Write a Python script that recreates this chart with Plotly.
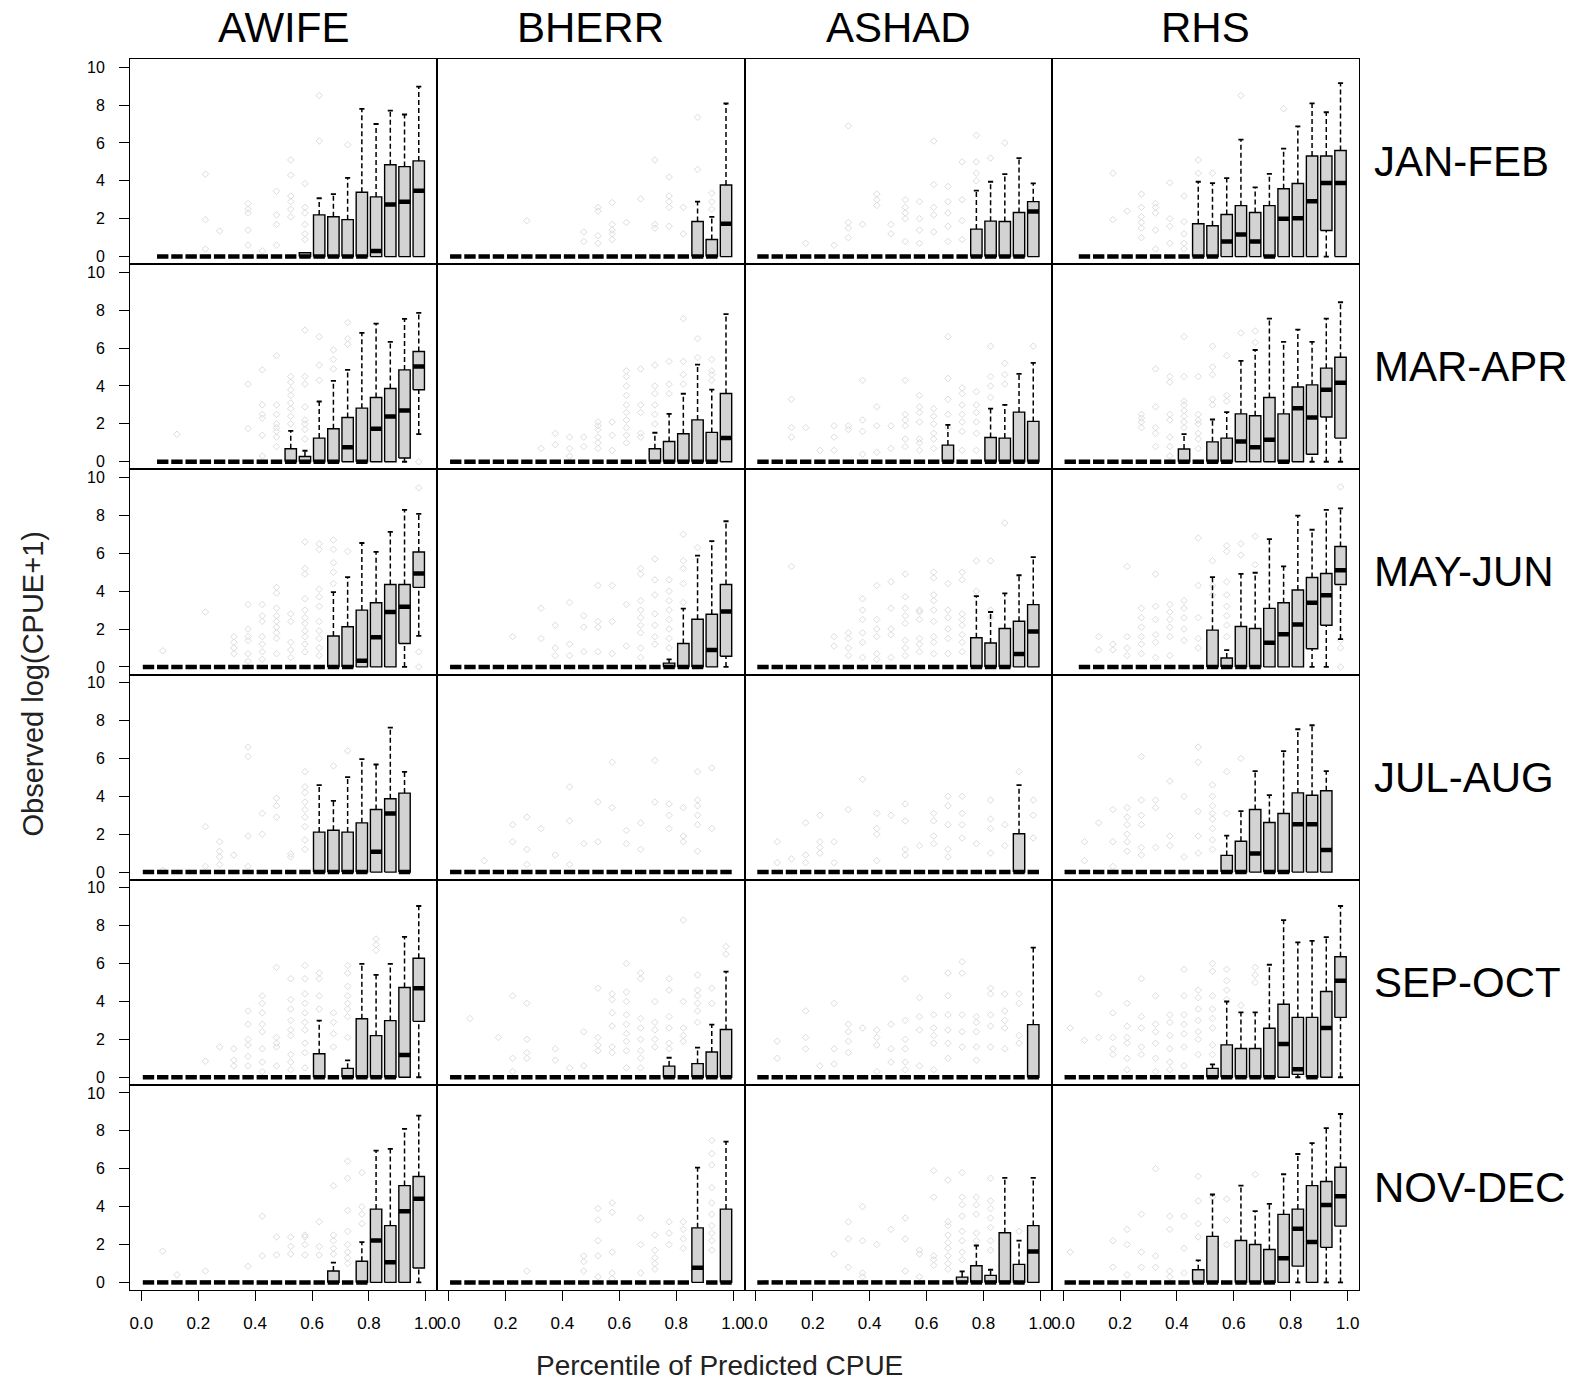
import plotly.graph_objects as go
from plotly.subplots import make_subplots

SPECIES = ["AWIFE", "BHERR", "ASHAD", "RHS"]
PERIODS = ["JAN-FEB", "MAR-APR", "MAY-JUN", "JUL-AUG", "SEP-OCT", "NOV-DEC"]
BIN_CENTERS = [0.025, 0.075, 0.125, 0.175, 0.225, 0.275, 0.325, 0.375, 0.425, 0.475,
               0.525, 0.575, 0.625, 0.675, 0.725, 0.775, 0.825, 0.875, 0.925, 0.975]
X_TICKS = [0.0, 0.2, 0.4, 0.6, 0.8, 1.0]
X_TICK_TEXT = ["0.0", "0.2", "0.4", "0.6", "0.8", "1.0"]
Y_TICKS = [0, 2, 4, 6, 8, 10]
Y_TICK_TEXT = ["0", "2", "4", "6", "8", "10"]

# Box statistics per percentile bin: (lower whisker, q1, median, q3, upper whisker)
# 0 = all observations zero, None = no observations in that bin
AWIFE_JANFEB = [None, 0, 0, 0, 0, 0, 0, 0, 0, 0, 0, (0, 0, 0, 0.2, 0.2), (0, 0, 0, 2.2, 3.08),
                (0, 0, 0, 2.1, 3.3), (0, 0, 0, 1.95, 4.15), (0, 0, 0, 3.4, 7.8), (0, 0, 0.3, 3.15, 7.0),
                (0, 0, 2.75, 4.85, 7.7), (0, 0, 2.9, 4.75, 7.5), (0, 0, 3.48, 5.05, 8.97)]
BHERR_JANFEB = [0, 0, 0, 0, 0, 0, 0, 0, 0, 0, 0, 0, 0, 0, 0, 0, 0,
                (0, 0, 0, 1.85, 2.9), (0, 0, 0, 0.9, 2.1), (0, 0, 1.73, 3.78, 8.08)]
ASHAD_JANFEB = [0, 0, 0, 0, 0, 0, 0, 0, 0, 0, 0, 0, 0, 0, 0,
                (0, 0, 0, 1.45, 3.48), (0, 0, 0, 1.87, 3.95), (0, 0, 0, 1.85, 4.35),
                (0, 0, 0, 2.33, 5.2), (0, 0, 2.38, 2.9, 3.86)]
RHS_JANFEB = [None, 0, 0, 0, 0, 0, 0, 0, 0, (0, 0, 0, 1.73, 3.95), (0, 0, 0, 1.63, 3.88),
              (0, 0, 0.79, 2.22, 4.14), (0, 0, 1.17, 2.69, 6.17), (0, 0, 0.79, 2.33, 3.65),
              (0, 0, 0, 2.69, 4.37), (0, 0, 2.0, 3.58, 5.7), (0, 0, 2.03, 3.86, 6.87),
              (0, 0, 2.92, 5.31, 8.09), (0, 1.38, 3.88, 5.31, 7.62), (0, 0, 3.88, 5.6, 9.16)]

AWIFE_MARAPR = [None, 0, 0, 0, 0, 0, 0, 0, 0, 0, (0, 0, 0, 0.69, 1.63), (0, 0, 0, 0.28, 0.58),
                (0, 0, 0, 1.25, 3.18), (0, 0, 0, 1.74, 4.27), (0, 0, 0.77, 2.34, 4.85),
                (0, 0, 0, 2.83, 6.8), (0, 0, 1.74, 3.39, 7.29), (0, 0, 2.39, 3.87, 6.33),
                (0, 0.2, 2.7, 4.85, 7.54), (1.46, 3.8, 5.03, 5.82, 7.86)]
BHERR_MARAPR = [0, 0, 0, 0, 0, 0, 0, 0, 0, 0, 0, 0, 0, 0,
                (0, 0, 0, 0.69, 1.53), (0, 0, 0, 1.07, 2.53), (0, 0, 0, 1.48, 3.59),
                (0, 0, 0, 2.21, 5.13), (0, 0, 0, 1.55, 3.81), (0, 0, 1.25, 3.6, 7.79)]
ASHAD_MARAPR = [0, 0, 0, 0, 0, 0, 0, 0, 0, 0, 0, 0, 0, (0, 0, 0, 0.88, 1.95), 0, 0,
                (0, 0, 0, 1.28, 2.81), (0, 0, 0, 1.25, 3.0), (0, 0, 0, 2.62, 4.64), (0, 0, 0, 2.13, 5.22)]
RHS_MARAPR = [0, 0, 0, 0, 0, 0, 0, 0, (0, 0, 0, 0.67, 1.46), 0, (0, 0, 0, 1.05, 2.23),
              (0, 0, 0, 1.25, 2.62), (0, 0, 1.07, 2.53, 5.33), (0, 0, 0.77, 2.43, 5.9),
              (0, 0, 1.16, 3.39, 7.56), (0, 0, 0, 2.53, 6.33), (0, 0, 2.83, 3.95, 6.98),
              (0, 0.4, 2.34, 4.06, 6.33), (0, 2.36, 3.8, 4.94, 7.56), (0, 1.25, 4.17, 5.52, 8.42)]

AWIFE_MAYJUN = [0, 0, 0, 0, 0, 0, 0, 0, 0, 0, 0, 0, 0, (0, 0, 0, 1.63, 3.95), (0, 0, 0, 2.12, 4.74),
                (0, 0, 0.33, 3.0, 6.54), (0, 0, 1.56, 3.39, 6.07), (0, 0, 2.9, 4.35, 7.13),
                (0, 1.24, 3.18, 4.35, 8.29), (1.64, 4.2, 4.93, 6.07, 8.08)]
BHERR_MAYJUN = [0, 0, 0, 0, 0, 0, 0, 0, 0, 0, 0, 0, 0, 0, 0, (0, 0, 0, 0.2, 0.4),
                (0, 0, 0, 1.24, 3.08), (0, 0, 0, 2.52, 5.87), (0, 0, 0.89, 2.78, 6.64),
                (0, 0.56, 2.92, 4.35, 7.69)]
ASHAD_MAYJUN = [0, 0, 0, 0, 0, 0, 0, 0, 0, 0, 0, 0, 0, 0, 0,
                (0, 0, 0, 1.54, 3.74), (0, 0, 0, 1.26, 2.9), (0, 0, 0, 2.03, 3.88),
                (0, 0, 0.68, 2.41, 4.84), (0, 0, 1.87, 3.29, 5.8)]
RHS_MAYJUN = [None, 0, 0, 0, 0, 0, 0, 0, 0, 0, (0, 0, 0, 1.94, 4.74), (0, 0, 0, 0.47, 0.89),
              (0, 0, 0, 2.13, 4.91), (0, 0, 0, 2.03, 4.97), (0, 0, 1.28, 3.09, 6.75),
              (0, 0, 1.73, 3.39, 5.31), (0, 0, 2.24, 4.06, 7.99), (0, 0.96, 3.39, 4.72, 7.24),
              (0, 2.2, 3.78, 4.93, 8.29), (1.47, 4.35, 5.1, 6.36, 8.37)]

AWIFE_JULAUG = [0, 0, 0, 0, 0, 0, 0, 0, 0, 0, 0, 0, (0, 0, 0, 2.11, 4.59), (0, 0, 0, 2.21, 3.76),
                (0, 0, 0, 2.11, 5.01), (0, 0, 0, 2.6, 5.96), (0, 0, 1.07, 3.3, 5.68),
                (0, 0, 3.09, 3.87, 7.63), (0, 0, 0, 4.17, 5.29), None]
BHERR_JULAUG = [0, 0, 0, 0, 0, 0, 0, 0, 0, 0, 0, 0, 0, 0, 0, 0, 0, 0, 0, 0]
ASHAD_JULAUG = [0, 0, 0, 0, 0, 0, 0, 0, 0, 0, 0, 0, 0, 0, 0, 0, 0, 0, (0, 0, 0, 2.02, 4.59), 0]
RHS_JULAUG = [0, 0, 0, 0, 0, 0, 0, 0, 0, 0, 0, (0, 0, 0, 0.88, 1.93), (0, 0, 0, 1.63, 3.22),
              (0, 0, 0.98, 3.3, 5.33), (0, 0, 0, 2.62, 4.06), (0, 0, 0, 3.09, 6.38),
              (0, 0, 2.53, 4.18, 7.54), (0, 0, 2.53, 4.06, 7.75), (0, 0, 1.16, 4.29, 5.33), None]

AWIFE_SEPOCT = [0, 0, 0, 0, 0, 0, 0, 0, 0, 0, 0, 0, (0, 0, 0, 1.24, 2.99), 0, (0, 0, 0, 0.47, 0.89),
                (0, 0, 0, 3.09, 5.98), (0, 0, 0, 2.2, 5.4), (0, 0, 0, 2.99, 5.98),
                (0, 0, 1.17, 4.74, 7.41), (0, 2.95, 4.7, 6.28, 9.04)]
BHERR_SEPOCT = [0, 0, 0, 0, 0, 0, 0, 0, 0, 0, 0, 0, 0, 0, 0, (0, 0, 0, 0.59, 1.03), 0,
                (0, 0, 0, 0.72, 1.56), (0, 0, 0, 1.33, 2.78), (0, 0, 0, 2.52, 5.58)]
ASHAD_SEPOCT = [0, 0, 0, 0, 0, 0, 0, 0, 0, 0, 0, 0, 0, 0, 0, 0, 0, 0, 0, (0, 0, 0, 2.78, 6.84)]
RHS_SEPOCT = [0, 0, 0, 0, 0, 0, 0, 0, 0, 0, (0, 0, 0, 0.47, 0.68), (0, 0, 0, 1.71, 4.0),
              (0, 0, 0, 1.52, 3.43), (0, 0, 0, 1.52, 3.43), (0, 0, 0, 2.59, 5.94),
              (0, 0, 1.75, 3.85, 8.29), (0, 0.15, 0.42, 3.16, 7.12), (0, 0, 0, 3.16, 7.2),
              (0, 0, 2.6, 4.53, 7.4), (0, 3.16, 5.1, 6.36, 9.04)]

AWIFE_NOVDEC = [0, 0, 0, 0, 0, 0, 0, 0, 0, 0, 0, 0, 0, (0, 0, 0, 0.6, 1.04), 0, (0, 0, 0, 1.12, 2.13),
                (0, 0, 2.21, 3.87, 6.96), (0, 0, 1.07, 3.0, 7.05), (0, 0, 3.76, 5.11, 8.1),
                (0, 0.76, 4.41, 5.59, 8.8)]
BHERR_NOVDEC = [0, 0, 0, 0, 0, 0, 0, 0, 0, 0, 0, 0, 0, 0, 0, 0, 0,
                (0, 0, 0.77, 2.88, 6.06), 0, (0, 0, 0, 3.87, 7.43)]
ASHAD_NOVDEC = [0, 0, 0, 0, 0, 0, 0, 0, 0, 0, 0, 0, 0, 0, (0, 0, 0, 0.28, 0.58), (0, 0, 0, 0.88, 1.95),
                (0, 0, 0, 0.37, 0.67), (0, 0, 0, 2.62, 5.52), (0, 0, 0, 0.95, 2.21), (0, 0, 1.63, 3.0, 5.52)]
RHS_NOVDEC = [0, 0, 0, 0, 0, 0, 0, 0, 0, (0, 0, 0, 0.67, 1.16), (0, 0, 0, 2.43, 4.64), 0,
              (0, 0, 0, 2.21, 5.11), (0, 0, 0, 2.0, 3.76), (0, 0, 0, 1.74, 4.15),
              (0, 0, 1.28, 3.59, 5.71), (0, 0.86, 2.83, 3.87, 6.78), (0, 0, 2.13, 5.11, 7.35),
              (0, 1.85, 4.09, 5.33, 8.14), (0, 2.97, 4.55, 6.08, 8.89)]

# Outlying observations (grey points): {bin index: [values]}
OUT_AWIFE_JANFEB = {4: [4.35, 1.95, 0.4], 5: [1.35], 7: [2.8, 2.5, 2.3, 1.4, 0.6], 8: [0.3],
                    9: [3.45, 2.2, 1.7, 0.6], 10: [5.1, 4.3, 3.2, 2.9, 2.5, 2.1],
                    11: [3.85, 2.6, 2.3, 1.7, 1.2, 0.9], 12: [8.5, 6.1], 14: [5.9]}
OUT_BHERR_JANFEB = {5: [1.9], 9: [1.3, 0.8], 10: [2.6, 2.4, 1.1, 0.7], 11: [2.85, 1.7, 1.4, 1.2, 0.9],
                    12: [1.8], 13: [3.05], 14: [5.1, 1.7, 1.5], 15: [4.2, 3.2, 2.9, 2.6, 1.6],
                    16: [2.6, 1.2], 17: [7.35, 4.6], 18: [3.35, 2.9, 2.5]}
OUT_ASHAD_JANFEB = {3: [0.7], 5: [0.6], 6: [6.9, 1.8, 1.5, 1.0], 7: [1.7], 8: [3.3, 3.0, 2.7],
                    9: [1.7, 1.2], 10: [3.0, 2.6, 2.3, 2.0, 0.8], 11: [2.9, 2.0, 1.4, 0.7],
                    12: [6.1, 3.8, 2.6, 2.2, 1.3], 13: [3.7, 2.9, 2.3, 1.6, 0.8], 14: [5.0, 3.0, 1.9, 0.9],
                    15: [6.4, 5.0, 4.4, 4.0], 16: [5.2], 17: [6.0]}
OUT_RHS_JANFEB = {3: [4.4, 1.95], 4: [2.4], 5: [3.3, 2.6, 2.1, 1.8, 1.5, 1.0], 6: [2.8, 2.6, 2.3, 1.4, 0.4],
                  7: [3.9, 2.0, 1.6, 0.7], 8: [3.2, 1.85, 1.2, 0.7, 0.4], 9: [5.1, 4.4], 10: [4.4],
                  12: [8.5], 15: [7.8]}

OUT_AWIFE_MARAPR = {2: [1.45], 7: [4.1, 1.75], 8: [4.85, 3.0, 2.5, 2.3, 1.4, 0.3],
                    9: [5.6, 3.0, 2.5, 2.0, 1.8, 1.6, 1.3, 0.8], 10: [4.5, 4.2, 3.8, 3.5, 3.1, 2.8, 2.4, 2.0],
                    11: [6.95, 4.5, 4.1, 2.9, 2.2, 2.0, 1.7, 1.2], 12: [6.6, 5.1, 4.3], 13: [5.9, 5.4, 4.9],
                    14: [7.35, 6.5, 6.2], 19: [0.0]}
OUT_BHERR_MARAPR = {6: [0.7], 7: [1.5, 0.9], 8: [1.3, 0.7, 0.3], 9: [1.3, 0.8], 10: [2.1, 1.9, 1.7, 1.3, 1.0, 0.7],
                    11: [2.1, 1.4, 0.6], 12: [4.8, 4.5, 4.0, 3.5, 3.0, 2.6, 2.2, 1.8, 1.4, 1.0],
                    13: [4.9, 3.0, 2.6, 1.5, 1.3], 14: [5.1, 4.0, 3.6, 3.0, 2.5, 2.0], 15: [5.3, 4.1, 3.6],
                    16: [7.55, 5.3, 4.6, 4.1], 17: [6.5, 5.5], 18: [5.4, 4.8, 4.6, 4.3]}
OUT_ASHAD_MARAPR = {2: [3.3, 1.8, 1.3], 3: [1.8], 4: [0.6], 5: [1.9, 1.3, 0.6], 6: [1.9, 1.7],
                    7: [4.3, 2.2, 1.6, 0.4], 8: [2.9, 1.9, 0.5], 9: [1.9, 0.7], 10: [4.3, 2.5, 2.2, 1.9, 1.2, 0.8],
                    11: [3.5, 2.9, 2.6, 2.1, 1.2, 1.0, 0.6], 12: [2.8, 2.4, 2.0, 1.5, 1.2, 0.7],
                    13: [6.6, 4.4, 3.3, 2.5, 1.8], 14: [3.9, 3.6, 3.0, 2.5, 2.1, 1.6, 0.6],
                    15: [3.7, 3.0, 2.6, 2.1, 1.5, 0.6], 16: [6.1, 4.5, 4.0, 3.4], 17: [5.2, 4.6, 4.1], 19: [6.1]}
OUT_RHS_MARAPR = {5: [2.5, 2.3, 2.1, 1.8], 6: [4.9, 2.9, 1.8, 1.5, 0.8], 7: [4.5, 4.2, 2.5, 2.2, 1.3, 0.8, 0.3],
                  8: [6.6, 4.5, 3.2, 3.0, 2.7, 2.4, 2.1, 1.8], 9: [4.5, 2.5, 2.2, 2.0, 1.5, 1.2, 0.7],
                  10: [6.1, 5.0, 4.6, 3.3, 3.0], 11: [5.6, 3.5, 3.2], 12: [6.8], 13: [6.9, 6.3]}

OUT_AWIFE_MAYJUN = {1: [0.85], 4: [2.9], 6: [1.6, 1.3, 1.0, 0.7], 7: [3.3, 2.0, 1.6, 1.4, 0.7, 0.3],
                    8: [3.3, 2.7, 2.4, 1.6, 1.2, 0.8, 0.4], 9: [4.2, 3.9, 3.1, 2.7, 2.4, 2.1, 1.8, 1.5, 0.7],
                    10: [2.8, 2.4, 1.3, 0.9, 0.5], 11: [6.6, 5.2, 4.9, 3.6, 3.0, 2.6, 2.3, 1.9, 1.6, 1.2, 0.8],
                    12: [6.5, 6.2, 4.1, 3.7, 3.2, 2.4, 1.9, 1.5, 1.0, 0.6], 13: [6.7, 6.2, 5.5, 5.0, 4.4],
                    14: [6.1], 19: [9.45, 0.8, 0.0]}
OUT_BHERR_MAYJUN = {4: [1.6], 6: [3.1, 1.5], 7: [2.2, 1.0, 0.6], 8: [3.4, 1.2, 0.6], 9: [2.7, 2.1, 0.8],
                    10: [4.3, 2.4, 2.1, 0.8], 11: [4.3, 2.4, 0.7], 12: [3.3, 1.1],
                    13: [5.2, 4.9, 3.5, 3.0, 2.6, 2.2, 1.8, 1.0, 0.5], 14: [5.7, 4.6, 3.8, 2.8, 2.2, 1.6, 1.2],
                    15: [4.6, 4.0, 3.5, 3.0, 2.5, 2.0, 1.5, 1.0], 16: [7.0, 5.6, 5.2, 4.4, 3.4], 17: [6.3]}
OUT_ASHAD_MAYJUN = {2: [5.3], 5: [1.6, 1.1], 6: [1.8, 1.5, 1.0, 0.6], 7: [3.6, 3.0, 2.5, 1.8, 1.3, 0.5],
                    8: [4.3, 2.5, 2.0, 1.6, 0.7, 0.4], 9: [4.5, 3.1, 2.0, 1.7, 0.5],
                    10: [4.9, 3.7, 3.1, 2.7, 2.3, 1.4, 1.0, 0.6], 11: [3.0, 2.9, 2.5, 1.5, 1.2, 0.8],
                    12: [5.0, 4.7, 3.8, 3.5, 3.0, 2.4, 1.6, 1.3, 0.7], 13: [4.4, 3.0, 2.6, 2.0, 1.5, 0.7],
                    14: [5.0, 4.6, 2.8, 2.5, 2.2, 1.7, 1.3, 0.8], 15: [5.6, 4.0], 16: [5.6, 3.0, 2.6], 17: [7.6]}
OUT_RHS_MAYJUN = {2: [1.6, 0.9], 3: [1.2, 0.9], 4: [5.3, 1.6, 1.0, 0.6], 5: [3.1, 2.6, 2.1, 1.6, 1.2, 0.7],
                  6: [4.9, 3.2, 2.5, 1.7, 1.3, 0.5], 7: [3.3, 2.9, 2.5, 2.1, 1.6, 0.6], 8: [3.5, 3.1, 2.6, 2.0, 1.4],
                  9: [6.8, 4.3, 2.6, 1.5, 1.0], 10: [5.6, 4.3, 3.8], 11: [6.4, 6.1, 4.5, 3.8, 3.2, 2.7, 2.2, 1.6],
                  12: [6.5, 5.9], 13: [6.9, 5.4], 19: [9.5, 1.4, 1.0, 0.0]}

OUT_AWIFE_JULAUG = {1: [0.1], 4: [2.4, 0.3], 5: [1.6, 1.1, 0.8, 0.4], 6: [0.9], 7: [6.6, 6.1, 1.9, 0.3],
                    8: [3.1, 2.0], 9: [3.9, 3.5, 2.9], 10: [0.95, 0.8],
                    11: [5.3, 4.5, 4.2, 3.7, 3.3, 2.9, 2.4, 1.7, 1.2], 13: [5.6], 14: [6.4]}
OUT_BHERR_JULAUG = {2: [0.6], 4: [2.5, 1.6], 5: [2.9, 1.2, 0.4], 6: [2.3], 7: [0.9], 8: [4.5, 2.7, 0.4],
                    9: [1.5], 10: [3.7, 1.6], 11: [5.8, 3.4], 12: [2.2, 1.5], 13: [2.6, 1.2], 14: [5.9, 3.7],
                    15: [3.6, 3.0, 2.3], 16: [3.4, 1.9, 1.6], 17: [5.3, 3.8, 3.5, 3.0, 2.5, 1.1], 18: [5.5, 2.3]}
OUT_ASHAD_JULAUG = {1: [1.6, 0.5], 2: [0.7], 3: [2.6, 0.9, 0.5], 4: [3.0, 1.6, 1.3, 1.0], 5: [1.6, 0.5],
                    6: [3.3], 7: [4.9], 8: [3.1, 2.3, 2.0, 0.6], 9: [3.0], 10: [3.6, 2.7, 1.2, 0.9], 11: [1.4],
                    12: [3.1, 2.7, 1.9, 1.5], 13: [4.0, 3.5, 2.5, 1.2, 0.8], 14: [4.0, 3.1, 2.5, 1.8], 15: [1.5],
                    16: [3.8, 2.8, 2.3, 1.0], 17: [2.5, 1.4], 18: [5.3], 19: [3.8, 3.0, 1.8]}
OUT_RHS_JULAUG = {1: [1.6, 0.6], 2: [2.6], 3: [3.3, 1.6, 0.3], 4: [3.4, 2.9, 2.5, 2.0, 1.6, 1.1],
                  5: [6.1, 3.8, 3.0, 2.5, 1.3, 0.9], 6: [3.8, 3.4, 1.3], 7: [4.8, 1.9, 1.4], 8: [4.0, 0.8],
                  9: [6.6, 5.8, 3.2, 1.9, 1.0], 10: [4.6, 4.0, 3.5, 3.1, 2.8, 2.3, 1.7, 1.2], 11: [5.3, 3.1], 12: [6.0]}

OUT_AWIFE_SEPOCT = {4: [0.85], 5: [1.6], 6: [1.5, 0.9, 0.6], 7: [3.5, 2.8, 2.0, 1.7, 1.1, 0.6],
                    8: [4.3, 3.9, 3.4, 2.8, 2.4, 1.5, 0.8, 0.3], 9: [5.8, 2.1, 1.8, 1.6, 0.6],
                    10: [5.2, 4.1, 3.6, 3.0, 2.5, 2.2, 1.2, 0.8, 0.4],
                    11: [5.9, 5.2, 4.4, 3.9, 3.4, 2.9, 2.5, 1.8, 1.3, 0.5], 12: [5.5, 5.2, 4.3, 3.6],
                    13: [3.4, 2.9, 2.3, 1.6], 14: [5.9, 5.5, 4.8, 4.3, 3.9, 3.6, 3.2, 2.1], 16: [7.3, 7.0, 6.7]}
OUT_BHERR_SEPOCT = {1: [3.1], 3: [2.1], 4: [4.3, 1.0, 0.3], 5: [3.9, 2.0, 1.3, 1.0], 7: [1.5, 0.9], 8: [0.5],
                    9: [2.4, 0.6], 10: [4.7, 2.1, 1.7, 1.4], 11: [4.4, 4.1, 3.4, 2.7, 1.6, 1.3],
                    12: [6.0, 4.5, 4.0, 3.3, 2.8, 2.3, 1.9, 1.4, 0.5], 13: [5.5, 5.2, 3.1, 2.6, 2.0, 1.4, 1.0, 0.5],
                    14: [4.0, 2.9, 2.5, 2.0, 1.6], 15: [5.2, 4.6, 3.2, 2.6, 1.8, 1.5], 16: [8.3, 4.0, 2.6, 2.2, 1.9],
                    17: [5.4, 4.6, 4.3, 3.9, 3.5, 2.9], 18: [4.7, 3.9], 19: [6.9, 6.5]}
OUT_ASHAD_SEPOCT = {1: [1.9, 1.0], 3: [3.5, 2.1, 1.5], 4: [0.6], 5: [3.9, 1.5, 0.7], 6: [2.8, 2.4, 1.9, 1.3],
                    7: [2.6], 8: [2.5, 2.1, 1.7, 0.3], 9: [2.8, 1.5, 0.8], 10: [5.2, 3.0, 2.0, 1.5, 0.8, 0.4],
                    11: [4.2, 3.2, 2.5, 0.6], 12: [3.3, 2.6, 2.2, 1.8, 0.4], 13: [5.5, 4.3, 3.3, 2.5, 1.8, 1.0],
                    14: [6.1, 5.5, 3.3, 2.4, 1.6], 15: [3.2, 2.9, 2.4, 1.6, 0.9], 16: [4.7, 4.4, 3.3, 2.7, 1.6],
                    17: [4.4, 3.5, 3.0, 2.6, 1.5], 18: [4.4, 3.9, 2.2, 1.8]}
OUT_RHS_SEPOCT = {0: [2.6], 1: [1.95], 2: [4.4, 2.1], 3: [3.4, 2.1, 1.5, 1.2], 4: [3.9, 2.7, 2.1, 1.8, 1.0, 0.4],
                  5: [5.2, 3.2, 2.6, 1.6, 1.2], 6: [4.3, 2.8, 2.4, 1.8, 1.0, 0.3], 7: [3.3, 2.9, 2.2, 1.5, 0.8, 0.4],
                  8: [5.7, 4.3, 3.3, 2.8, 2.3, 1.6, 0.6], 9: [4.6, 4.2, 3.6, 3.0, 2.4, 2.0, 1.2],
                  10: [6.0, 5.6, 4.3, 3.6, 3.1, 2.6, 1.7, 1.2], 11: [5.7, 5.1, 4.6, 4.1], 12: [3.8], 13: [5.8, 5.4, 5.0]}

OUT_AWIFE_NOVDEC = {1: [1.65], 2: [0.4], 4: [0.6], 7: [0.85], 8: [3.5, 1.4], 9: [2.4, 1.45], 10: [2.4, 1.9, 1.5],
                    11: [2.5, 2.4, 2.0, 1.45], 12: [3.2, 1.9, 1.45], 13: [5.1, 2.5, 2.2, 1.8, 1.5],
                    14: [6.4, 5.5, 3.8, 2.7, 2.0, 1.6, 1.3, 1.0], 15: [5.8, 4.0, 3.6, 3.1]}
OUT_BHERR_NOVDEC = {5: [0.6], 9: [1.4, 1.1, 0.6], 10: [3.9, 3.3, 2.2, 1.4, 0.3], 11: [4.2, 3.7, 1.6, 0.5, 0.2],
                    13: [3.4, 2.0, 0.5], 14: [2.5, 1.7, 1.3, 1.0, 0.7], 15: [3.2, 2.6, 2.0], 16: [3.2, 2.8, 2.3, 1.8],
                    18: [7.5, 6.8, 6.2, 5.0, 4.2, 3.6, 3.0, 2.6, 2.2, 1.7]}
OUT_ASHAD_NOVDEC = {5: [1.5], 6: [3.2, 2.3, 0.8], 7: [4.0, 2.2, 0.5, 0.3], 8: [2.0], 9: [2.8], 10: [3.4, 2.3, 0.6],
                    11: [1.7, 1.5, 0.3], 12: [5.9, 4.5, 1.4, 1.2, 0.9], 13: [5.4, 3.2, 3.0, 2.5, 2.1, 1.8, 1.4, 1.0, 0.7],
                    14: [5.8, 4.5, 4.1, 3.5, 2.7, 2.2, 1.6, 1.2], 15: [4.5, 4.1, 3.6, 2.6, 2.2],
                    16: [5.5, 4.3, 3.9, 3.4, 2.9, 2.2, 1.7], 18: [2.7]}
OUT_RHS_NOVDEC = {0: [1.6], 3: [2.2, 0.8], 4: [2.8, 2.0, 0.4], 5: [3.6, 1.6, 0.8], 6: [6.0, 1.4, 0.8],
                  7: [3.5, 2.8, 0.6, 0.3], 8: [3.5, 1.8, 0.5], 9: [5.6, 4.3, 3.1, 2.4], 10: [4.5],
                  11: [4.4, 3.3, 2.0], 13: [5.7]}

BOXES = [
    [AWIFE_JANFEB, BHERR_JANFEB, ASHAD_JANFEB, RHS_JANFEB],
    [AWIFE_MARAPR, BHERR_MARAPR, ASHAD_MARAPR, RHS_MARAPR],
    [AWIFE_MAYJUN, BHERR_MAYJUN, ASHAD_MAYJUN, RHS_MAYJUN],
    [AWIFE_JULAUG, BHERR_JULAUG, ASHAD_JULAUG, RHS_JULAUG],
    [AWIFE_SEPOCT, BHERR_SEPOCT, ASHAD_SEPOCT, RHS_SEPOCT],
    [AWIFE_NOVDEC, BHERR_NOVDEC, ASHAD_NOVDEC, RHS_NOVDEC],
]
OUTLIERS = [
    [OUT_AWIFE_JANFEB, OUT_BHERR_JANFEB, OUT_ASHAD_JANFEB, OUT_RHS_JANFEB],
    [OUT_AWIFE_MARAPR, OUT_BHERR_MARAPR, OUT_ASHAD_MARAPR, OUT_RHS_MARAPR],
    [OUT_AWIFE_MAYJUN, OUT_BHERR_MAYJUN, OUT_ASHAD_MAYJUN, OUT_RHS_MAYJUN],
    [OUT_AWIFE_JULAUG, OUT_BHERR_JULAUG, OUT_ASHAD_JULAUG, OUT_RHS_JULAUG],
    [OUT_AWIFE_SEPOCT, OUT_BHERR_SEPOCT, OUT_ASHAD_SEPOCT, OUT_RHS_SEPOCT],
    [OUT_AWIFE_NOVDEC, OUT_BHERR_NOVDEC, OUT_ASHAD_NOVDEC, OUT_RHS_NOVDEC],
]

FONT = "Arial, 'Liberation Sans', sans-serif"
HW = 0.02      # half box width (x units)
CAPW = 0.009   # half staple width

W, H = 1595, 1383
ML, MR, MT, MB = 130, 236, 59, 93
PW, PH = W - ML - MR, H - MT - MB

fig = make_subplots(rows=6, cols=4, horizontal_spacing=0, vertical_spacing=0)

for r in range(6):
    for c in range(4):
        stats = BOXES[r][c]
        outs = OUTLIERS[r][c]
        ox, oy = [], []
        for b, vals in outs.items():
            for v in vals:
                ox.append(BIN_CENTERS[b])
                oy.append(v)
        fig.add_trace(go.Scatter(x=ox, y=oy, mode="markers", hoverinfo="skip",
                                 marker=dict(symbol="diamond-open", size=5, color="#dcdcdc",
                                             line=dict(width=1, color="#dcdcdc"))),
                      row=r + 1, col=c + 1)
        bx, by, mx, my, wx, wy, sx, sy = [], [], [], [], [], [], [], []
        for b, s in enumerate(stats):
            if s is None:
                continue
            x = BIN_CENTERS[b]
            if s == 0:
                lo = q1 = med = q3 = hi = 0.0
            else:
                lo, q1, med, q3, hi = s
            if q3 > q1:
                bx += [x - HW, x + HW, x + HW, x - HW, x - HW, None]
                by += [q1, q1, q3, q3, q1, None]
            mx += [x - HW, x + HW, None]
            my += [med, med, None]
            if hi > q3:
                wx += [x, x, None]
                wy += [q3, hi, None]
                sx += [x - CAPW, x + CAPW, None]
                sy += [hi, hi, None]
            if q1 > lo:
                wx += [x, x, None]
                wy += [lo, q1, None]
                sx += [x - CAPW, x + CAPW, None]
                sy += [lo, lo, None]
        fig.add_trace(go.Scatter(x=wx, y=wy, mode="lines", hoverinfo="skip",
                                 line=dict(color="black", width=1.5, dash="5px,3px")),
                      row=r + 1, col=c + 1)
        fig.add_trace(go.Scatter(x=sx, y=sy, mode="lines", hoverinfo="skip",
                                 line=dict(color="black", width=1.8)),
                      row=r + 1, col=c + 1)
        if bx:
            fig.add_trace(go.Scatter(x=bx, y=by, mode="lines", fill="toself", fillcolor="#d3d3d3",
                                     hoverinfo="skip", line=dict(color="black", width=1.4)),
                          row=r + 1, col=c + 1)
        fig.add_trace(go.Scatter(x=mx, y=my, mode="lines", hoverinfo="skip",
                                 line=dict(color="black", width=4.5)),
                      row=r + 1, col=c + 1)

        fig.update_xaxes(row=r + 1, col=c + 1, range=[-0.04, 1.04], showline=True, mirror=True,
                         linecolor="black", linewidth=1, showgrid=False, zeroline=False,
                         tickvals=X_TICKS, ticktext=X_TICK_TEXT,
                         ticks="outside" if r == 5 else "", ticklen=10, tickwidth=1.2, tickcolor="black",
                         showticklabels=(r == 5), ticklabelstandoff=8,
                         tickfont=dict(family=FONT, size=17, color="black"))
        fig.update_yaxes(row=r + 1, col=c + 1, range=[-0.4, 10.43], showline=True, mirror=True,
                         linecolor="black", linewidth=1, showgrid=False, zeroline=False,
                         tickvals=Y_TICKS, ticktext=Y_TICK_TEXT,
                         ticks="outside" if c == 0 else "", ticklen=10, tickwidth=1.2, tickcolor="black",
                         showticklabels=(c == 0), ticklabelstandoff=11,
                         tickfont=dict(family=FONT, size=16, color="black"))

annotations = []
for c, name in enumerate(SPECIES):
    xc = (c + 0.5) / 4
    annotations.append(dict(text=name, x=xc, y=(PH + MT - 27.5) / PH, xref="paper", yref="paper",
                            xanchor="center", yanchor="middle", showarrow=False,
                            font=dict(family=FONT, size=42, color="black")))
for r, name in enumerate(PERIODS):
    yc = 1 - (r + 0.5) / 6
    annotations.append(dict(text=name, x=(1372 - ML) / PW, y=yc, xref="paper", yref="paper",
                            xanchor="left", yanchor="middle", showarrow=False,
                            font=dict(family=FONT, size=42, color="black")))
annotations.append(dict(text="Observed log(CPUE+1)", x=(32.5 - ML) / PW, y=(H - MB - 684) / PH,
                        xref="paper", yref="paper", textangle=-90, xanchor="center", yanchor="middle",
                        showarrow=False, font=dict(family=FONT, size=29, color="#222222")))
annotations.append(dict(text="Percentile of Predicted CPUE", x=(719 - ML) / PW, y=(H - MB - 1365) / PH,
                        xref="paper", yref="paper", xanchor="center", yanchor="middle",
                        showarrow=False, font=dict(family=FONT, size=28, color="#222222")))

fig.update_layout(width=W, height=H, margin=dict(l=ML, r=MR, t=MT, b=MB),
                  plot_bgcolor="white", paper_bgcolor="white", showlegend=False,
                  annotations=annotations)

fig.write_html("out.html")
